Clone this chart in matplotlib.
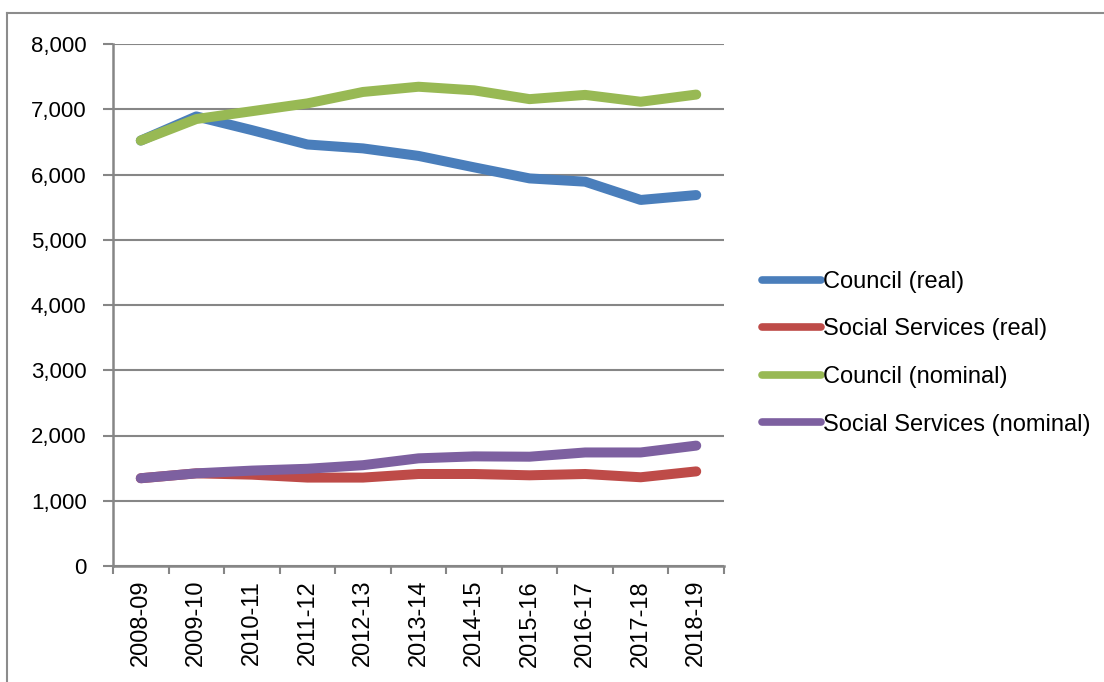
import matplotlib
matplotlib.use("Agg")
import matplotlib.pyplot as plt
from matplotlib.lines import Line2D
from matplotlib.ticker import FuncFormatter, FixedLocator
import numpy as np

plt.rcParams['font.family'] = ['Liberation Sans', 'DejaVu Sans']

years = ["2008-09", "2009-10", "2010-11", "2011-12", "2012-13", "2013-14",
         "2014-15", "2015-16", "2016-17", "2017-18", "2018-19"]

council_real = [6520, 6890, 6680, 6460, 6400, 6285, 6110, 5940, 5890, 5610, 5685]
social_real = [1345, 1420, 1400, 1355, 1355, 1410, 1410, 1390, 1410, 1360, 1450]
council_nominal = [6520, 6850, 6970, 7090, 7265, 7345, 7290, 7155, 7220, 7115, 7225]
social_nominal = [1345, 1420, 1462, 1490, 1545, 1650, 1680, 1675, 1740, 1740, 1845]

series = [
    ("Council (real)", council_real, "#4a7ebb"),
    ("Social Services (real)", social_real, "#be4b48"),
    ("Council (nominal)", council_nominal, "#98b954"),
    ("Social Services (nominal)", social_nominal, "#7d60a0"),
]

W, H = 1104, 682
fig = plt.figure(figsize=(W / 100, H / 100), dpi=100)
ax = fig.add_axes([113 / W, 1 - 566 / H, (724 - 113) / W, (566 - 44) / H])

grey = "#868686"
x = np.arange(len(years))
for label, vals, color in series:
    ax.plot(x, vals, color=color, lw=7.2, solid_capstyle="round",
            solid_joinstyle="round", label=label, zorder=3)

ax.set_xlim(-0.5, len(years) - 0.5)
ax.set_ylim(0, 8000)
ax.set_yticks(np.arange(0, 8001, 1000))
ax.yaxis.set_major_formatter(FuncFormatter(lambda v, p: f"{int(v):,}"))
ax.grid(axis="y", color=grey, lw=1.5, zorder=1)

# tick marks sit between categories, labels sit on the category centres
ax.xaxis.set_major_locator(FixedLocator(np.arange(-0.5, len(years), 1.0)))
ax.xaxis.set_minor_locator(FixedLocator(x))
ax.set_xticklabels([""] * (len(years) + 1))
ax.set_xticklabels(years, minor=True, rotation=90)
ax.tick_params(axis="x", which="major", length=6, width=1.5, color=grey)
ax.tick_params(axis="x", which="minor", length=0, pad=10, labelsize=17)
ax.tick_params(axis="y", length=7, width=1.5, color=grey, labelsize=16, pad=12)

for side in ("top", "right"):
    ax.spines[side].set_visible(False)
for side in ("left", "bottom"):
    ax.spines[side].set_color(grey)
    ax.spines[side].set_linewidth(1.8)

handles = [Line2D([], [], color=c, lw=5.5, solid_capstyle="round") for _, _, c in series]
fig.legend(handles, [s[0] for s in series], loc="upper left",
           bbox_to_anchor=(762 / W, 1 - 271 / H), frameon=False,
           fontsize=17, handlelength=2.5, handletextpad=0.1,
           labelspacing=1.08, borderaxespad=0, borderpad=0)

# outer chart frame
fig.add_artist(Line2D([7 / W, 7 / W], [0, 1 - 13 / H], color="#8c8c8c", lw=1.5))
fig.add_artist(Line2D([7 / W, 1], [1 - 13 / H, 1 - 13 / H], color="#8c8c8c", lw=1.5))

fig.savefig("out.png", dpi=100, facecolor="white")
